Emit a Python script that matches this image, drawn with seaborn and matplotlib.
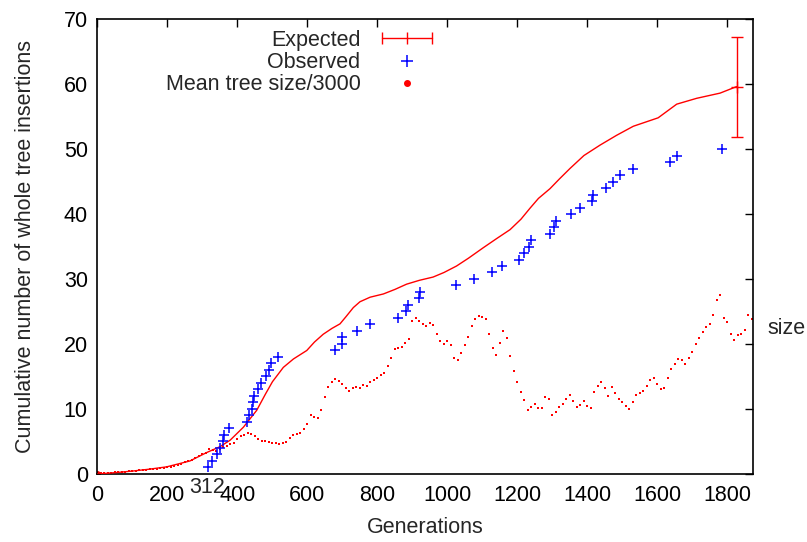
import numpy as np
import pandas as pd
import matplotlib.pyplot as plt
import seaborn as sns
from matplotlib.lines import Line2D
from matplotlib.legend_handler import HandlerLine2D

# Expected cumulative insertions (line) and the error bar at its last point
exp_gen = [0, 50, 102, 150, 198, 264, 312, 350, 379, 417, 455, 480, 500, 531, 560, 598,
           620, 645, 670, 693, 710, 731, 750, 779, 817, 850, 883, 920, 959, 990, 1026,
           1060, 1102, 1140, 1179, 1210, 1236, 1260, 1293, 1320,
           1350, 1390, 1436, 1483, 1531, 1602, 1655, 1712, 1779, 1826]
exp_vals = [0.0, 0.2, 0.46, 0.75, 1.1, 2.0, 3.3, 4.2, 5.2, 7.2, 9.8, 12.3, 14.2, 16.4, 17.7, 19.0,
            20.3, 21.5, 22.4, 23.1, 24.2, 25.6, 26.5, 27.2, 27.7, 28.4, 29.2, 29.8, 30.3, 31.0, 32.0,
            33.2, 34.8, 36.2, 37.6, 39.2, 40.9, 42.4, 43.9, 45.4,
            47.0, 49.0, 50.6, 52.1, 53.5, 54.8, 56.9, 57.8, 58.6, 59.6]
exp_err = 7.7

# Observed cumulative insertions
obs_gen = [316, 327, 342, 351, 358, 361, 377, 427, 433, 442, 445, 447, 459, 466, 482,
           489, 497, 515, 679, 699, 700, 741, 779, 858, 882, 886, 918, 921, 1023, 1075,
           1128, 1156, 1204, 1219, 1233, 1240, 1292, 1303, 1311, 1354, 1378, 1414, 1417,
           1452, 1474, 1494, 1531, 1637, 1657, 1785]
obs_count = list(range(1, 51))

# Mean tree size / 3000, read every 10 generations
mean_gen = list(range(0, 1871, 10))
mean_vals = [
    0.0, 0.1, 0.1, 0.15, 0.2, 0.25, 0.3, 0.3, 0.35, 0.4,
    0.45, 0.5, 0.55, 0.6, 0.65, 0.7, 0.75, 0.8, 0.9, 0.95,
    1.05, 1.15, 1.3, 1.45, 1.6, 1.8, 2.0, 2.2, 2.5, 2.7,
    3.0, 3.3, 3.9, 3.7, 3.6, 3.8, 4.2, 4.3, 4.6, 4.8,
    5.4, 5.8, 6.0, 6.3, 6.2, 5.9, 5.4, 5.1, 5.0, 4.9,
    4.8, 4.7, 4.6, 4.7, 4.9, 5.6, 6.0, 6.1, 6.3, 6.9,
    7.7, 9.1, 8.8, 8.6, 9.9, 11.8, 13.4, 14.2, 14.6, 14.3,
    13.8, 13.2, 12.8, 13.2, 13.4, 13.3, 13.7, 13.6, 14.1, 14.5,
    14.8, 15.2, 15.6, 16.6, 17.9, 19.2, 19.4, 19.6, 20.1, 20.8,
    23.6, 24.0, 23.6, 23.0, 22.7, 23.2, 22.9, 21.5, 20.4, 20.0,
    20.5, 19.8, 17.8, 17.6, 18.6, 19.8, 21.0, 22.8, 23.8, 24.3,
    24.1, 23.8, 21.6, 19.4, 18.3, 20.2, 22.0, 20.9, 18.2, 15.9,
    14.1, 12.6, 11.4, 9.9, 10.3, 10.8, 10.2, 10.1, 11.8, 11.6,
    9.1, 9.6, 10.3, 10.8, 11.5, 12.1, 11.3, 10.3, 10.6, 11.3,
    10.5, 10.2, 12.6, 13.6, 14.1, 13.2, 12.0, 13.4, 12.4, 11.5,
    11.0, 10.5, 10.0, 11.0, 12.2, 12.5, 12.8, 13.6, 14.5, 14.8,
    13.9, 13.0, 13.2, 14.8, 16.1, 16.9, 17.7, 17.5, 16.9, 17.8,
    18.8, 20.0, 20.9, 21.9, 22.6, 23.1, 24.5, 26.7, 27.5, 24.0,
    23.4, 21.6, 20.6, 21.4, 21.6, 22.2, 24.5, 23.8]

xticks = [0, 200, 400, 600, 800, 1000, 1200, 1400, 1600, 1800]
yticks = [0, 10, 20, 30, 40, 50, 60, 70]

sns.set_theme(style='white')
plt.rcParams['font.family'] = ['Liberation Sans', 'DejaVu Sans']

fig = plt.figure(figsize=(8.07, 5.42), dpi=100)
ax = fig.add_axes([0.1208, 0.1255, 0.8127, 0.8394])

sns.scatterplot(x=mean_gen, y=mean_vals, color='red', marker='s', s=3.5,
                linewidth=0, ax=ax, legend=False, zorder=2)
ax.plot([0], [0], marker='o', color='red', ms=4, zorder=2)
sns.lineplot(x=exp_gen, y=exp_vals, color='red', lw=1, ax=ax, zorder=3)
ax.errorbar([exp_gen[-1]], [exp_vals[-1]], yerr=[exp_err], color='red', lw=1,
            capsize=4.5, capthick=1, fmt='none', zorder=3)
ax.plot([exp_gen[-1]], [exp_vals[-1]], marker='+', color='red', ms=8, mew=1, zorder=3)
sns.scatterplot(x=obs_gen, y=obs_count, marker='+', color='blue', s=50,
                linewidth=1.1, ax=ax, legend=False, zorder=4)

ax.set_xlim(0, 1874)
ax.set_ylim(0, 70)
ax.set_xticks(xticks)
ax.set_yticks(yticks)
for lab in ax.get_xticklabels() + ax.get_yticklabels():
    lab.set_fontsize(15.5)
ax.tick_params(direction='in', length=6, width=1, top=True, right=True,
               colors='black', pad=8)
ax.tick_params(axis='y', pad=7)
for sp in ax.spines.values():
    sp.set_visible(True)
    sp.set_color('black')
    sp.set_linewidth(1.2)

ax.annotate('312', xy=(312, 0), xycoords=('data', 'axes fraction'),
            xytext=(0, -2.5), textcoords='offset points', ha='center', va='top',
            fontsize=15.5)

ax.set_xlabel('Generations', fontsize=15.5, labelpad=8)
ax.set_ylabel('Cumulative number of whole tree insertions', fontsize=15.5, labelpad=20)
fig.text(767 / 807, 1 - 328 / 542, 'size', fontsize=15.5, ha='left', va='center')

h_exp = Line2D([], [], color='red', lw=1, marker='|', ms=9, mew=1)
h_obs = Line2D([], [], color='blue', lw=0, marker='+', ms=8, mew=1.1)
h_mean = Line2D([], [], color='red', lw=0, marker='o', ms=4)
ax.legend([h_exp, h_obs, h_mean], ['Expected', 'Observed', 'Mean tree size/3000'],
          loc='upper right', bbox_to_anchor=(438 / 807, 1 - 30 / 542),
          bbox_transform=fig.transFigure, frameon=False, markerfirst=False,
          fontsize=15.5, handlelength=2.9, handletextpad=0.7, labelspacing=0.05,
          borderpad=0, borderaxespad=0, numpoints=1,
          handler_map={h_exp: HandlerLine2D(numpoints=3)})

fig.savefig('out.png', dpi=100)
